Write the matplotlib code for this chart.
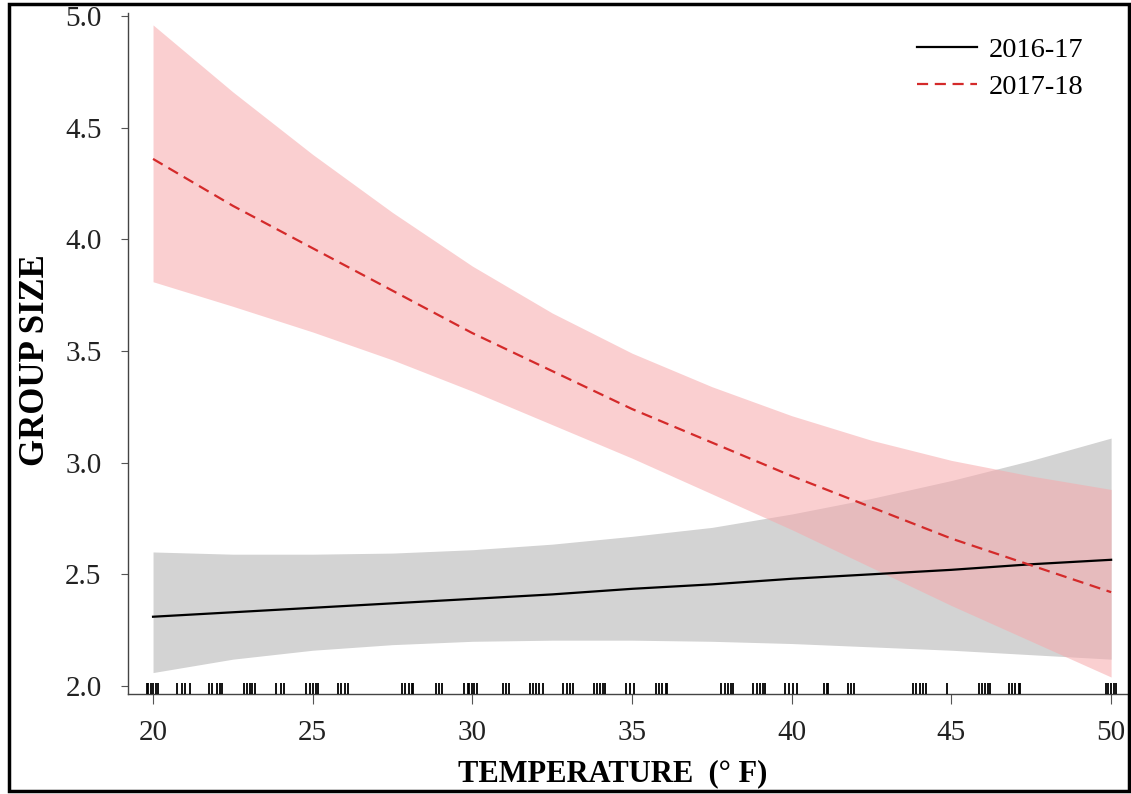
import matplotlib
matplotlib.use("Agg")
import matplotlib.pyplot as plt
from matplotlib.patches import Rectangle
from matplotlib.transforms import blended_transform_factory

# ---- data ----
temp = [20, 22.5, 25, 27.5, 30, 32.5, 35, 37.5, 40, 42.5, 45, 47.5, 50]

fit_1617 = [2.31, 2.33, 2.35, 2.37, 2.39, 2.41, 2.435, 2.455, 2.48, 2.50, 2.52, 2.545, 2.565]
upr_1617 = [2.60, 2.59, 2.59, 2.595, 2.61, 2.635, 2.67, 2.71, 2.77, 2.84, 2.92, 3.01, 3.11]
lwr_1617 = [2.06, 2.12, 2.16, 2.185, 2.20, 2.205, 2.205, 2.20, 2.19, 2.175, 2.16, 2.14, 2.12]

fit_1718 = [4.36, 4.15, 3.96, 3.77, 3.58, 3.41, 3.24, 3.09, 2.94, 2.80, 2.66, 2.54, 2.42]
upr_1718 = [4.96, 4.66, 4.38, 4.12, 3.88, 3.67, 3.49, 3.34, 3.21, 3.10, 3.01, 2.94, 2.88]
lwr_1718 = [3.81, 3.70, 3.585, 3.46, 3.32, 3.17, 3.02, 2.86, 2.70, 2.53, 2.36, 2.20, 2.04]

rug_temps = [
    19.8, 19.85, 19.95, 20.0, 20.1, 20.15,
    20.75, 20.9, 21.0, 21.15,
    21.75, 21.85, 22.0, 22.1, 22.15,
    22.85, 22.95, 23.05, 23.1, 23.2,
    23.85, 24.0, 24.1,
    24.8, 24.9, 25.0, 25.1, 25.15,
    25.8, 25.9, 26.0, 26.1,
    27.8, 27.9, 28.0, 28.1, 28.15,
    28.85, 28.95, 29.05,
    29.75, 29.85, 29.9, 30.0, 30.05, 30.15,
    30.95, 31.05, 31.15,
    31.8, 31.9, 32.0, 32.1, 32.2,
    32.85, 32.95, 33.05, 33.15,
    33.8, 33.9, 34.0, 34.1, 34.15,
    34.8, 34.95, 35.05,
    35.75, 35.85, 35.95, 36.05, 36.1,
    37.8, 37.9, 38.0, 38.1, 38.15,
    38.8, 38.9, 39.0, 39.1, 39.15,
    39.8, 39.9, 40.05, 40.15,
    41.0, 41.1, 41.15,
    41.75, 41.85, 41.95,
    43.8, 43.9, 44.0, 44.1, 44.2,
    44.85,
    45.85, 45.95, 46.05, 46.15, 46.2,
    46.8, 46.9, 47.0, 47.1, 47.15,
    49.85, 49.9, 50.0, 50.1, 50.15,
]

xticks = [20, 25, 30, 35, 40, 45, 50]
yticks = [2.0, 2.5, 3.0, 3.5, 4.0, 4.5, 5.0]
series_labels = ["2016-17", "2017-18"]

plt.rcParams["font.family"] = ["Liberation Serif", "DejaVu Serif"]

W, H = 1131, 794
fig = plt.figure(figsize=(W / 100, H / 100), dpi=100)
ax = fig.add_axes([128 / W, 1 - 694 / H, (1129 - 128) / W, (694 - 13) / H])

ax.fill_between(temp, lwr_1617, upr_1617, color="#c8c8c8", alpha=0.8, linewidth=0, zorder=1)
ax.fill_between(temp, lwr_1718, upr_1718, color="#f7a8ab", alpha=0.55, linewidth=0, zorder=2)
ax.plot(temp, fit_1617, color="black", lw=1.6, label=series_labels[0], zorder=4)
ax.plot(temp, fit_1718, color="#d42a2a", lw=1.6, linestyle=(0, (5, 3)),
        label=series_labels[1], zorder=5)

trans = blended_transform_factory(ax.transData, ax.transAxes)
ax.vlines(rug_temps, 0, 0.016, transform=trans, color="black", lw=1.3, zorder=6)

ax.set_xlim(19.216, 50.56)
ax.set_ylim(1.964, 5.0134)
ax.set_xticks(xticks)
ax.set_xticklabels([str(t) for t in xticks])
ax.set_yticks(yticks)
ax.set_yticklabels([f"{t:.1f}" for t in yticks])

for s in ["top", "right"]:
    ax.spines[s].set_visible(False)
for s in ["left", "bottom"]:
    ax.spines[s].set_color("#444444")
    ax.spines[s].set_linewidth(1.0)

ax.tick_params(axis="y", direction="out", length=5, width=0.8, color="#555555",
               pad=14, labelsize=21, labelcolor="#222222")
ax.tick_params(axis="x", direction="out", length=7, width=0.8, color="#555555",
               pad=12, labelsize=21, labelcolor="#222222")

ax.set_xlabel("TEMPERATURE  (° F)", fontsize=22, fontweight="bold")
ax.set_ylabel("GROUP SIZE", fontsize=25, fontweight="bold")
ax.xaxis.set_label_coords(0.484, -0.096)
ax.yaxis.set_label_coords(-0.076, 0.49)

leg = ax.legend(loc="upper right", bbox_to_anchor=(0.98, 1.003), frameon=False,
                fontsize=20.5, handlelength=2.1, handletextpad=0.42, labelspacing=0.41)

# figure border
fig.patches.append(Rectangle((9 / W, 3 / H), (1129 - 9) / W, (790 - 3) / H,
                             transform=fig.transFigure, fill=False,
                             edgecolor="black", linewidth=2.5, zorder=10))

fig.savefig("out.png", dpi=100)
